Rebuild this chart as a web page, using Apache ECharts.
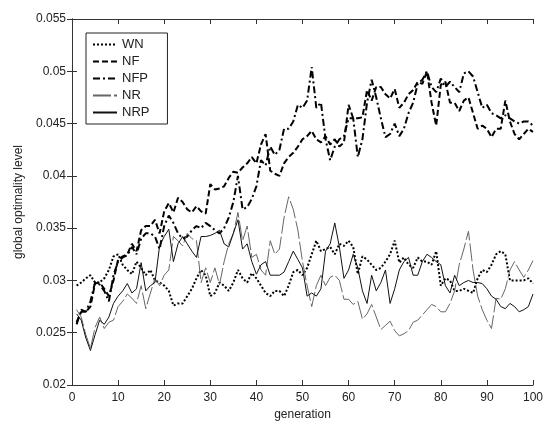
<!DOCTYPE html>
<html>
<head>
<meta charset="utf-8">
<script src="https://cdn.jsdelivr.net/npm/echarts@6/dist/echarts.min.js"></script>
<style>
html,body{margin:0;padding:0;background:#fff;}
#chart{width:546px;height:426px;}
</style>
</head>
<body>
<div id="chart"></div>
<script>
// ---- data ----
var generations = [];
for (var i = 1; i <= 100; i++) generations.push(i);

var xTicks = [0,10,20,30,40,50,60,70,80,90,100];
var yTicks = [0.02,0.025,0.03,0.035,0.04,0.045,0.05,0.055];
var seriesNames = ['WN','NF','NFP','NR','NRP'];

var WN = [0.0295,0.0298,0.0302,0.0305,0.0298,0.0298,0.0302,0.031,0.0323,0.0325,
0.0315,0.031,0.0306,0.0318,0.0312,0.0305,0.031,0.030,0.0298,0.0295,
0.029,0.0276,0.0278,0.0278,0.0285,0.0292,0.0302,0.031,0.0305,0.0285,
0.0288,0.0298,0.0295,0.029,0.0298,0.031,0.0302,0.0298,0.0307,0.0302,
0.0295,0.0288,0.0285,0.029,0.029,0.0285,0.0295,0.0308,0.031,0.0305,
0.0312,0.0325,0.0338,0.0328,0.033,0.0332,0.0325,0.0335,0.0333,0.0338,
0.0332,0.0306,0.0323,0.032,0.0315,0.031,0.0312,0.0318,0.0325,0.0338,
0.0317,0.0322,0.0315,0.0312,0.0322,0.0318,0.0318,0.0315,0.0328,0.0295,
0.0302,0.030,0.029,0.029,0.0292,0.029,0.0288,0.0302,0.031,0.0308,
0.0315,0.0325,0.0328,0.0325,0.030,0.030,0.030,0.030,0.0302,0.0297];

var NF = [0.026,0.027,0.027,0.0275,0.0297,0.0298,0.0292,0.0285,0.030,0.032,
0.0323,0.0325,0.0335,0.0328,0.0348,0.0352,0.0352,0.0358,0.0345,0.0366,
0.0374,0.0365,0.0379,0.0375,0.0368,0.0365,0.0371,0.0366,0.0364,0.0392,
0.0387,0.0388,0.039,0.0398,0.0404,0.0403,0.0408,0.0412,0.0418,0.0412,
0.043,0.044,0.0405,0.0402,0.040,0.0412,0.0418,0.0422,0.0428,0.0435,
0.0438,0.0443,0.0435,0.0432,0.0438,0.043,0.0435,0.0428,0.0432,0.0468,
0.0455,0.0455,0.0456,0.0482,0.0472,0.0485,0.0485,0.0478,0.0474,0.0483,
0.0465,0.047,0.0478,0.0482,0.049,0.0488,0.050,0.047,0.0448,0.0487,
0.049,0.047,0.047,0.0462,0.0472,0.0475,0.046,0.0445,0.0448,0.0445,
0.0437,0.0445,0.0445,0.0472,0.0452,0.044,0.0435,0.044,0.0445,0.0442];

var NFP = [0.0258,0.0272,0.027,0.028,0.0298,0.0296,0.029,0.028,0.0305,0.0318,
0.0322,0.0324,0.0332,0.0325,0.034,0.0345,0.0345,0.0342,0.033,0.0352,
0.0362,0.0355,0.0345,0.034,0.0342,0.0348,0.0352,0.035,0.0355,0.0352,
0.0348,0.0345,0.035,0.036,0.0375,0.040,0.0368,0.037,0.0378,0.039,
0.0415,0.041,0.0428,0.042,0.0425,0.0445,0.0445,0.0452,0.0468,0.0465,
0.0472,0.0504,0.0465,0.047,0.0435,0.0415,0.0428,0.0435,0.0438,0.0455,
0.0455,0.0418,0.0435,0.047,0.0492,0.0475,0.0455,0.0437,0.044,0.045,
0.0438,0.0445,0.046,0.047,0.0488,0.0492,0.050,0.0485,0.048,0.0493,
0.0485,0.049,0.0485,0.048,0.0498,0.050,0.0495,0.048,0.0465,0.0468,
0.046,0.0458,0.0455,0.0458,0.0455,0.0452,0.045,0.0452,0.0452,0.0448];

var NR = [0.0272,0.0265,0.0248,0.0235,0.0255,0.0265,0.0254,0.026,0.0262,0.0275,
0.028,0.0287,0.0283,0.0278,0.0295,0.0273,0.0288,0.0302,0.0295,0.0305,
0.031,0.0342,0.0338,0.0333,0.0345,0.034,0.0338,0.0298,0.0312,0.0298,
0.0312,0.0296,0.0318,0.0335,0.0345,0.0365,0.0338,0.0352,0.0322,0.0325,
0.031,0.0305,0.0338,0.0325,0.033,0.036,0.038,0.0368,0.0348,0.0318,
0.0295,0.0275,0.0295,0.0305,0.0295,0.0303,0.0305,0.030,0.0282,0.0282,
0.0277,0.028,0.0263,0.0268,0.0277,0.0265,0.0253,0.0257,0.0261,0.0252,
0.0247,0.0249,0.0252,0.026,0.0262,0.0267,0.0272,0.0277,0.0275,0.027,
0.027,0.0278,0.029,0.0315,0.033,0.0347,0.031,0.0285,0.0272,0.0262,
0.0254,0.0283,0.0282,0.0292,0.031,0.0318,0.031,0.0303,0.031,0.0319];

var NRP = [0.0268,0.0262,0.0245,0.0233,0.0248,0.0262,0.0258,0.0265,0.0278,0.0285,
0.029,0.0297,0.0288,0.0292,0.0317,0.029,0.0295,0.0298,0.0333,0.0342,
0.0349,0.0318,0.0335,0.0342,0.0335,0.0328,0.0322,0.0342,0.0342,0.0343,
0.0345,0.0348,0.0335,0.0332,0.0345,0.0358,0.033,0.0335,0.0318,0.0306,
0.0315,0.0318,0.0305,0.0305,0.0305,0.0308,0.0318,0.0328,0.032,0.0312,
0.0285,0.0288,0.0285,0.0292,0.0328,0.0335,0.0355,0.0332,0.0302,0.031,
0.0325,0.0312,0.029,0.0278,0.0305,0.029,0.0298,0.031,0.0278,0.0292,
0.031,0.0318,0.0322,0.0305,0.0305,0.0318,0.0325,0.0322,0.0318,0.0315,
0.0295,0.0288,0.0305,0.0295,0.0298,0.030,0.0298,0.0298,0.0297,0.0292,
0.0285,0.0282,0.0275,0.0273,0.0278,0.0275,0.027,0.0272,0.0275,0.0287];

function pairs(vals){ return generations.map(function(g,i){ return [g, vals[i]]; }); }

var axisColor = '#333';
var textColor = '#222';
var font = 'Liberation Sans, Arial, sans-serif';

function fmtY(v){ return String(+v.toFixed(3)); }

var chart = echarts.init(document.getElementById('chart'), null, {renderer:'canvas'});
chart.setOption({
  backgroundColor: '#fff',
  animation: false,
  grid: { left: 72, right: 9, top: 19, bottom: 41, containLabel: false },
  legend: {
    orient: 'vertical',
    left: 86, top: 33,
    padding: [5, 18, 5, 6],
    itemWidth: 24, itemHeight: 14, itemGap: 4,
    borderColor: '#222', borderWidth: 1,
    backgroundColor: '#fff',
    itemStyle: { opacity: 0 },
    textStyle: { fontFamily: font, fontSize: 13, color: textColor },
    data: seriesNames
  },
  xAxis: [{
    type: 'value', min: xTicks[0], max: xTicks[xTicks.length-1], interval: 10,
    position: 'bottom',
    name: 'generation', nameLocation: 'middle', nameGap: 24,
    nameTextStyle: { fontFamily: font, fontSize: 12, color: textColor },
    axisLine: { show: true, lineStyle: { color: axisColor, width: 1 } },
    axisTick: { show: true, inside: true, length: 5, lineStyle: { color: axisColor } },
    axisLabel: { show: true, margin: 7, fontFamily: font, fontSize: 12, color: textColor },
    splitLine: { show: false }
  },{
    type: 'value', min: xTicks[0], max: xTicks[xTicks.length-1], interval: 10,
    position: 'top',
    axisLine: { show: true, lineStyle: { color: axisColor, width: 1 } },
    axisTick: { show: true, inside: true, length: 5, lineStyle: { color: axisColor } },
    axisLabel: { show: false },
    splitLine: { show: false }
  }],
  yAxis: [{
    type: 'value', min: yTicks[0], max: yTicks[yTicks.length-1], interval: 0.005,
    position: 'left',
    name: 'global optimality level', nameLocation: 'middle', nameGap: 46,
    nameTextStyle: { fontFamily: font, fontSize: 12, color: textColor },
    axisLine: { show: true, lineStyle: { color: axisColor, width: 1 } },
    axisTick: { show: true, inside: true, length: 5, lineStyle: { color: axisColor } },
    axisLabel: { show: true, margin: 6, fontFamily: font, fontSize: 12, color: textColor, formatter: fmtY },
    splitLine: { show: false }
  },{
    type: 'value', min: yTicks[0], max: yTicks[yTicks.length-1], interval: 0.005,
    position: 'right',
    axisLine: { show: true, lineStyle: { color: axisColor, width: 1 } },
    axisTick: { show: true, inside: true, length: 5, lineStyle: { color: axisColor } },
    axisLabel: { show: false },
    splitLine: { show: false }
  }],
  series: [
    { name: 'WN', type: 'line', data: pairs(WN), symbol: 'none',
      lineStyle: { color: '#000', width: 2, type: [2, 2] }, itemStyle: { color: '#000' } },
    { name: 'NF', type: 'line', data: pairs(NF), symbol: 'none',
      lineStyle: { color: '#000', width: 2, type: [6, 3] }, itemStyle: { color: '#000' } },
    { name: 'NFP', type: 'line', data: pairs(NFP), symbol: 'none',
      lineStyle: { color: '#000', width: 2, type: [7, 3, 2, 3] }, itemStyle: { color: '#000' } },
    { name: 'NR', type: 'line', data: pairs(NR), symbol: 'none',
      lineStyle: { color: '#666', width: 1, type: [18, 3] }, itemStyle: { color: '#666' } },
    { name: 'NRP', type: 'line', data: pairs(NRP), symbol: 'none',
      lineStyle: { color: '#111', width: 1, type: 'solid' }, itemStyle: { color: '#111' } }
  ]
});
</script>
</body>
</html>
